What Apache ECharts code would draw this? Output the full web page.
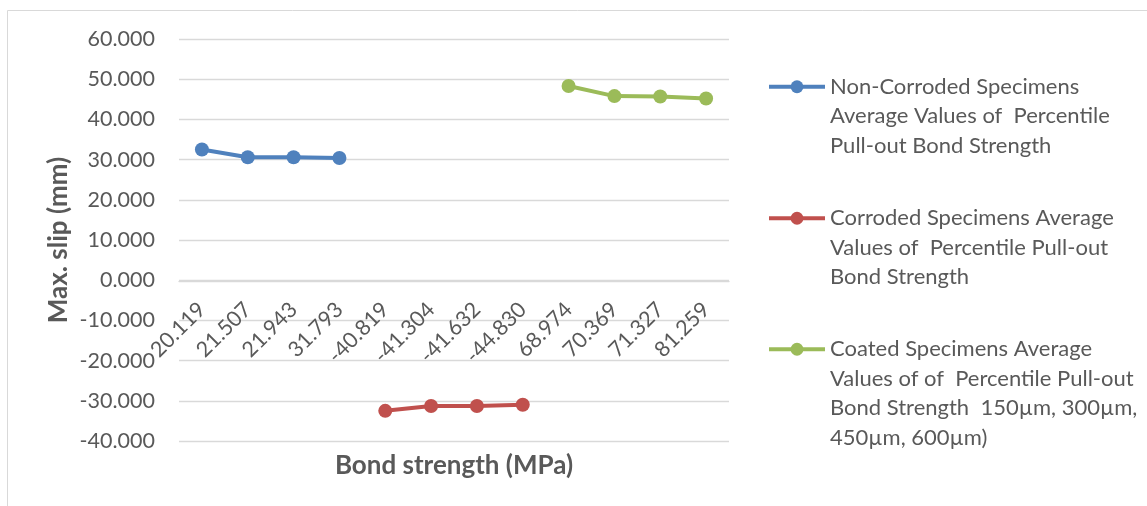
<!DOCTYPE html>
<html>
<head>
<meta charset="utf-8">
<script src="https://cdn.jsdelivr.net/npm/echarts@6/dist/echarts.min.js"></script>
<style>
html,body{margin:0;padding:0;background:#fff;}
#chart{width:1147px;height:506px;}
</style>
</head>
<body>
<div id="chart"></div>
<script>
const categories = ['20.119','21.507','21.943','31.793','-40.819','-41.304','-41.632','-44.830','68.974','70.369','71.327','81.259'];
const nonCorroded = [32.5, 30.6, 30.6, 30.4, null, null, null, null, null, null, null, null];
const corroded = [null, null, null, null, -32.5, -31.3, -31.3, -31.0, null, null, null, null];
const coated = [null, null, null, null, null, null, null, null, 48.3, 45.8, 45.7, 45.2];
const seriesNames = [
  'Non-Corroded Specimens\nAverage Values of  Percentile\nPull-out Bond Strength',
  'Corroded Specimens Average\nValues of  Percentile Pull-out\nBond Strength',
  'Coated Specimens Average\nValues of of  Percentile Pull-out\nBond Strength  150µm, 300µm,\n450µm, 600µm)'
];
const colors = ['#4F81BD', '#C0504D', '#9BBB59'];
const yTicks = {min: -40, max: 60, interval: 10};

const FONT = 'Lato';
const TXT = '#595959';
const LH = 29.5;

function mkSeries(name, data, color) {
  return {
    name: name, type: 'line', data: data, connectNulls: false,
    symbol: 'circle', symbolSize: 14,
    lineStyle: {color: color, width: 4},
    itemStyle: {color: color},
    emphasis: {disabled: true},
    animation: false
  };
}
function mkLegend(name, top) {
  const lines = name.split('\n').length;
  return {
    data: [name], orient: 'vertical', left: 767, top: top, padding: 0,
    itemWidth: 56, itemHeight: 16, itemGap: 5,
    lineStyle: {width: 4},
    formatter: n => '\n'.repeat(lines - 1) + n,
    textStyle: {fontFamily: FONT, fontSize: 22, color: TXT, lineHeight: LH}
  };
}

const chart = echarts.init(document.getElementById('chart'));
chart.setOption({
  animation: false,
  graphic: [{type: 'rect', shape: {x: 7.5, y: 10.5, width: 1300, height: 700},
    style: {fill: 'none', stroke: '#d9d9d9', lineWidth: 1}, silent: true}],
  grid: {left: 179, right: 418, top: 39, bottom: 65, containLabel: false, outerBoundsMode: 'none'},
  legend: [
    mkLegend(seriesNames[0], 13),
    mkLegend(seriesNames[1], 144.5),
    mkLegend(seriesNames[2], 246)
  ],
  xAxis: {
    type: 'category', data: categories, boundaryGap: true,
    offset: -160,
    axisLine: {onZero: false, lineStyle: {color: '#d9d9d9', width: 1.3}},
    axisTick: {show: false},
    axisLabel: {rotate: 45, interval: 0, margin: 25, fontFamily: FONT, fontSize: 21.5, color: TXT},
    name: 'Bond strength (MPa)', nameLocation: 'middle', nameGap: 172,
    nameTextStyle: {fontFamily: FONT, fontSize: 26, fontWeight: 'bold', color: TXT}
  },
  yAxis: {
    type: 'value', min: yTicks.min, max: yTicks.max, interval: yTicks.interval,
    axisLine: {show: false}, axisTick: {show: false},
    splitLine: {lineStyle: {color: '#d9d9d9', width: 1.3}},
    axisLabel: {margin: 24, fontFamily: FONT, fontSize: 21.5, color: TXT,
      formatter: v => v.toFixed(3)},
    name: 'Max. slip (mm)', nameLocation: 'middle', nameGap: 107,
    nameTextStyle: {fontFamily: FONT, fontSize: 26, fontWeight: 'bold', color: TXT}
  },
  series: [
    mkSeries(seriesNames[0], nonCorroded, colors[0]),
    mkSeries(seriesNames[1], corroded, colors[1]),
    mkSeries(seriesNames[2], coated, colors[2])
  ]
});
</script>
</body>
</html>
